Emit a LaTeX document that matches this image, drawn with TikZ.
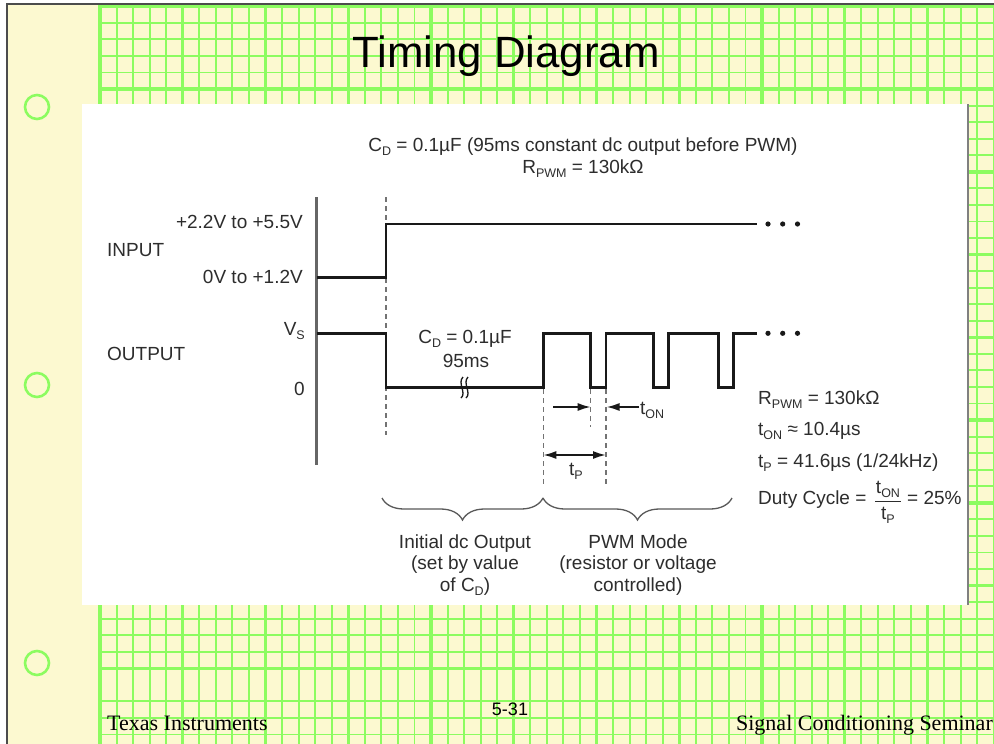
\documentclass[tikz,border=0pt]{standalone}
\usepackage{fontspec}
\setmainfont{Liberation Serif}
\newfontfamily\arialf{Liberation Sans}
\usetikzlibrary{arrows.meta,decorations.pathreplacing}
\definecolor{cream}{RGB}{252,249,208}
\definecolor{gridg}{RGB}{140,252,96}
\definecolor{ink}{RGB}{25,25,25}
\definecolor{txt}{RGB}{45,45,45}
\newcommand\sbx[1]{\raisebox{-4pt}{\fontsize{12.5}{12.5}\selectfont #1}}
\begin{document}
\begin{tikzpicture}[x=1pt,y=-1pt,
  dtext/.style={font=\arialf\fontsize{19}{21}\selectfont, text=txt, inner sep=0pt},
  wave/.style={draw=ink, line width=2.8pt, line join=miter},
  guide/.style={draw=black!55, line width=1.1pt, dash pattern=on 5pt off 4pt},
  gminor/.style={draw=gridg, line width=1.9pt},
  gmajor/.style={draw=gridg, line width=3.4pt},
  tipline/.style={-{Latex[length=13pt,width=8pt]}, draw=ink, line width=1.8pt},
  dbltip/.style={{Latex[length=13pt,width=8pt]}-{Latex[length=13pt,width=8pt]}, draw=ink, line width=1.8pt},
  bracestyle/.style={draw=black!65, line width=1.3pt, decorate, decoration={brace,mirror,amplitude=22pt}},
  hole/.style={draw=gridg, line width=2.6pt},
]
\useasboundingbox (0,0) rectangle (994,744);
% page
\fill[white] (0,0) rectangle (994,744);
\fill[cream] (7.3,4) rectangle (994,744);
% grid
\foreach \k in {0,...,54} \draw[gminor] ({100+16.55*\k},4) -- ({100+16.55*\k},744);
\foreach \k in {0,...,40} \draw[gminor] (100,{6.3+16.55*\k}) -- (994,{6.3+16.55*\k});
\foreach \k in {42,43,44} \draw[gminor] (100,{6.3+16.55*\k}) -- (994,{6.3+16.55*\k});
\foreach \k in {0,5,...,50} \draw[gmajor] ({100+16.55*\k},4) -- ({100+16.55*\k},744);
\foreach \k in {0,5,...,40} \draw[gmajor] (100,{6.3+16.55*\k}) -- (994,{6.3+16.55*\k});
% frame
\draw[draw=black!70, line width=2pt] (7.3,744) -- (7.3,4) -- (994,4);
% holes
\foreach \cy in {107,385,663} \draw[hole] (37,\cy) circle[radius=12pt];
% title
\node[anchor=base, inner sep=0pt, font=\arialf\fontsize{43.8}{50}\selectfont] (title) at (506,67) {Timing Diagram};
% panel
\fill[white] (82,104) rectangle (967,605);
\draw[draw=black!50, line width=2pt] (968,104) -- (968,605);
% caption
\node[dtext, anchor=base] (cap1) at (583,151) {C\sbx{D} = 0.1µF (95ms constant dc output before PWM)};
\node[dtext, anchor=base] (cap2) at (583,173) {R\sbx{PWM} = 130kΩ};
% axis
\coordinate (axT) at (316.7,197);
\coordinate (axB) at (316.7,465);
\draw[draw=black!60, line width=2.6pt] (axT) -- (axB);
% left labels
\node[dtext, anchor=base east] (hiIn) at (303,228) {+2.2V to +5.5V};
\node[dtext, anchor=base east] (loIn) at (303,283) {0V to +1.2V};
\node[dtext, anchor=base west] (inp) at (107,256.5) {INPUT};
\node[dtext, anchor=base west] (outp) at (107,360.5) {OUTPUT};
\node[dtext, anchor=base east] (vs) at (305,335) {V\sbx{S}};
\node[dtext, anchor=base east] (zero) at (305,395) {0};
% guides
\draw[guide] (386,197) -- (386,435);
\draw[guide] (543.3,389) -- (543.3,487);
\draw[guide] (590.7,389) -- (590.7,427);
\draw[guide] (606,389) -- (606,487);
% waveforms
\draw[wave] (316.7,277.3) -- (386,277.3) -- (386,224) -- (757,224);
\draw[wave] (316.7,333.3) -- (386,333.3) -- (386,387.7) -- (543.3,387.7) -- (543.3,333.3)
  -- (590.7,333.3) -- (590.7,387.7) -- (606,387.7) -- (606,333.3)
  -- (653.3,333.3) -- (653.3,387.7) -- (668.3,387.7) -- (668.3,333.3)
  -- (718.3,333.3) -- (718.3,387.7) -- (733.3,387.7) -- (733.3,333.3) -- (757,333.3);
\foreach \dx in {768,782.7,797.5} {
  \fill[ink] (\dx,224) circle[radius=2.6pt];
  \fill[ink] (\dx,333.3) circle[radius=2.6pt];
}
% break mark
\draw[ink, line width=1.3pt] (461,398) .. controls (467,393) and (457,383) .. (463,377);
\draw[ink, line width=1.3pt] (466,398) .. controls (472,393) and (462,383) .. (468,377);
% in-plot labels
\node[dtext, anchor=base] (cdl) at (465,343) {C\sbx{D} = 0.1µF};
\node[dtext, anchor=base] (msl) at (466,367) {95ms};
% arrows
\coordinate (a1s) at (553,407);
\coordinate (a1e) at (590.7,407);
\draw[tipline] (a1s) -- (a1e);
\coordinate (a2s) at (639,407);
\coordinate (a2e) at (606.5,407);
\draw[tipline] (a2s) -- (a2e);
\node[dtext, anchor=base west] (tonl) at (640,414) {t\sbx{ON}};
\coordinate (p1) at (543.3,455);
\coordinate (p2) at (606,455);
\draw[dbltip] (p1) -- (p2);
\node[dtext, anchor=base] (tpl) at (576,475) {t\sbx{P}};
% right labels
\node[dtext, anchor=base west] (r1) at (758,404) {R\sbx{PWM} = 130kΩ};
\node[dtext, anchor=base west] (r2) at (758,435) {t\sbx{ON} ≈ 10.4µs};
\node[dtext, anchor=base west] (r3) at (758,467) {t\sbx{P} = 41.6µs (1/24kHz)};
\node[dtext, anchor=base west] (dc) at (758,504) {Duty Cycle =};
\node[dtext, anchor=base] (fnum) at (888,493) {t\sbx{ON}};
\node[dtext, anchor=base] (fden) at (888,519) {t\sbx{P}};
\draw[draw=txt, line width=1.3pt] (875,501.5) -- (901,501.5);
\node[dtext, anchor=base west] (pct) at (907,504) {= 25\%};
% braces
\draw[bracestyle] (382,498) -- (543,498);
\draw[bracestyle] (543,498) -- (732,498);
\node[dtext, anchor=base] (b1a) at (465,548) {Initial dc Output};
\node[dtext, anchor=base] (b1b) at (465,569.5) {(set by value};
\node[dtext, anchor=base] (b1c) at (465,591) {of C\sbx{D})};
\node[dtext, anchor=base] (b2a) at (638,548) {PWM Mode};
\node[dtext, anchor=base] (b2b) at (638,569.5) {(resistor or voltage};
\node[dtext, anchor=base] (b2c) at (638,591) {controlled)};
% footer
\node[anchor=base west, inner sep=0pt, font=\fontsize{22}{24}\selectfont] (ti) at (107,730.7) {Texas Instruments};
\node[anchor=base east, inner sep=0pt, font=\fontsize{22}{24}\selectfont] (scs) at (993,730.7) {Signal Conditioning Seminar};
\node[anchor=base, inner sep=0pt, font=\arialf\fontsize{18}{20}\selectfont] (pg) at (510,715) {5-31};
\end{tikzpicture}
\end{document}
